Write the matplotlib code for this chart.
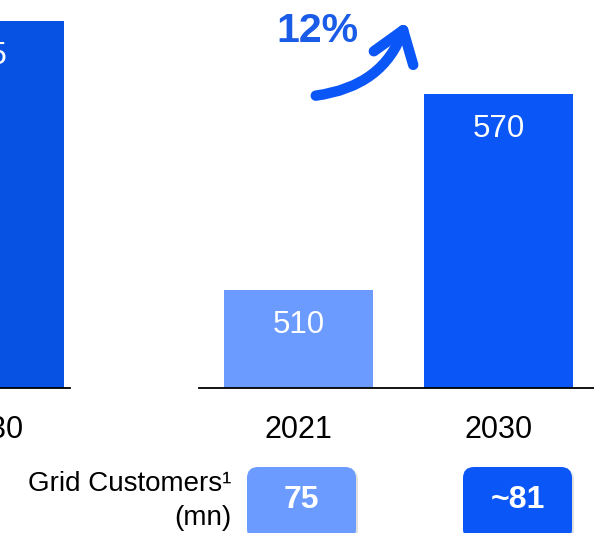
import matplotlib
matplotlib.use('Agg')
import matplotlib.pyplot as plt
from matplotlib.patches import FancyBboxPatch, FancyArrowPatch

plt.rcParams['font.family'] = ['Liberation Sans', 'DejaVu Sans']

# ── Data ──────────────────────────────────────────────────────────
left_years = ["2030"]
left_values = [95]
left_labels = ["95"]

years = ["2021", "2030"]
values = [510, 570]
value_labels = ["510", "570"]
growth_label = "12%"

customers = ["75", "~81"]
customers_label = "Grid Customers\u00b9\n(mn)"

LIGHT = '#6b9bff'
DARK = '#0a56f7'
LEFT_DARK = '#0752e2'

W, H = 594, 533
fig = plt.figure(figsize=(W / 100, H / 100), dpi=100)


def px(x0, y0, w, h):
    # pixel box (from top-left) -> figure fraction rect
    return [x0 / W, 1 - (y0 + h) / H, w / W, h / H]


# ── Left (cropped) panel ─────────────────────────────────────────
axl = fig.add_axes(px(0, 0, 70, 388))
axl.bar(range(len(left_values)), left_values, width=0.745, color=LEFT_DARK)
axl.set_xlim(0.05, 0.4)
axl.set_ylim(0, left_values[0] * 388 / 367)
for i, (v, lbl) in enumerate(zip(left_values, left_labels)):
    axl.annotate(lbl, (i, v), xytext=(0, -25), textcoords='offset points',
                 ha='center', va='center', color='white', fontsize=22.5,
                 annotation_clip=False)
    axl.annotate(left_years[i], (i, 0), xycoords=('data', 'axes fraction'),
                 xytext=(0, -30.5), textcoords='offset points',
                 ha='center', va='center', fontsize=22, annotation_clip=False)

# ── Right panel ──────────────────────────────────────────────────
axr = fig.add_axes(px(199, 0, 395, 388))
x = list(range(len(values)))
axr.bar(x, values, width=0.745, color=[LIGHT, DARK])
axr.set_xlim(-0.4975, 1.4775)
axr.set_ylim(480, 598.8)
for i, (v, lbl) in enumerate(zip(values, value_labels)):
    axr.annotate(lbl, (i, v), xytext=(0, -25), textcoords='offset points',
                 ha='center', va='center', color='white', fontsize=22.5)
    axr.annotate(years[i], (i, 0), xycoords=('data', 'axes fraction'),
                 xytext=(0, -30.5), textcoords='offset points',
                 ha='center', va='center', fontsize=22, annotation_clip=False)

for ax in (axl, axr):
    for s in ('top', 'right', 'left'):
        ax.spines[s].set_visible(False)
    ax.spines['bottom'].set_linewidth(1.3)
    ax.set_xticks([])
    ax.set_yticks([])
    ax.patch.set_alpha(0)

# ── Growth arrow ─────────────────────────────────────────────────
arrow = FancyArrowPatch((313, H - 96), (407, H - 19), transform=None,
                        connectionstyle='arc3,rad=0.32',
                        arrowstyle='->,head_length=0.85,head_width=0.6',
                        mutation_scale=25, lw=7.5, color=DARK,
                        capstyle='round', joinstyle='round')
fig.patches.append(arrow)
fig.text(317 / W, 1 - 31 / H, growth_label, ha='center', va='center',
         fontsize=29.5, fontweight='bold', color='#1a5ce8')

# ── Grid customers boxes ─────────────────────────────────────────
fig.text(231 / W, 1 - 501 / H, customers_label, ha='right', va='center',
         fontsize=20, linespacing=1.4)
box_x = [247, 463]
for bx, val, col in zip(box_x, customers, [LIGHT, DARK]):
    shadow = FancyBboxPatch((bx + 2, H - 540 - 2), 109, 73, transform=None,
                            boxstyle='round,pad=0,rounding_size=11',
                            fc='#cccccc', ec='none', alpha=0.6)
    box = FancyBboxPatch((bx, H - 540), 109, 73, transform=None,
                         boxstyle='round,pad=0,rounding_size=11',
                         fc=col, ec='none')
    fig.patches.append(shadow)
    fig.patches.append(box)
    fig.text((bx + 54.5) / W, 1 - 500 / H, val, ha='center', va='center',
             fontsize=23, fontweight='bold', color='white')

plt.savefig('out.png', dpi=100)
plt.close()
